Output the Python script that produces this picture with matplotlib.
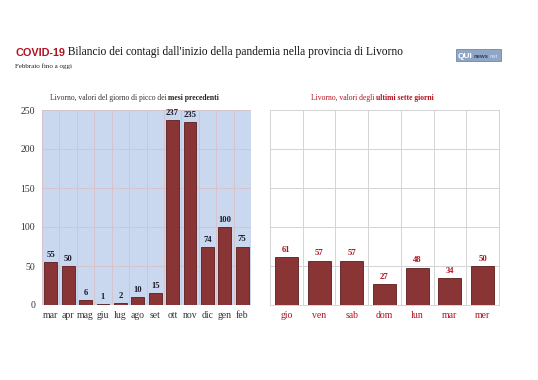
import matplotlib.pyplot as plt
import matplotlib.patches as mpatches
import numpy as np

# --- data ---
months = ['mar', 'apr', 'mag', 'giu', 'lug', 'ago', 'set', 'ott', 'nov', 'dic', 'gen', 'feb']
month_peaks = [55, 50, 6, 1, 2, 10, 15, 237, 235, 74, 100, 75]

days = ['gio', 'ven', 'sab', 'dom', 'lun', 'mar', 'mer']
day_values = [61, 57, 57, 27, 48, 34, 50]

y_ticks = [0, 50, 100, 150, 200, 250]

# --- styling ---
bar_color = '#8a3535'
edge_color = '#5c1c1c'
red = '#b3121f'
serif = ['Liberation Serif', 'DejaVu Serif']
sans = ['Liberation Sans', 'DejaVu Sans']
plt.rcParams['font.family'] = serif

fig = plt.figure(figsize=(5.38, 3.8), dpi=100)
fig.patch.set_facecolor('white')

# --- left panel: monthly peaks ---
ax1 = fig.add_axes([42 / 538, 75 / 380, 209 / 538, 195 / 380])
ax1.set_facecolor('#cad8ef')
x1 = np.arange(len(months))
bars1 = ax1.bar(x1, month_peaks, width=0.74, color=bar_color, edgecolor=edge_color,
                linewidth=0.6, zorder=3)
ax1.set_xlim(-0.5, len(months) - 0.5)
ax1.set_ylim(0, 250)
ax1.set_yticks(y_ticks)
ax1.set_xticks(x1)
ax1.set_xticklabels(months)
ax1.set_xticks(np.arange(-0.5, len(months)), minor=True)
ax1.grid(axis='y', color='#d6c3cc', lw=0.7, zorder=0)
ax1.grid(axis='x', which='minor', color='#d6c3cc', lw=0.7, zorder=0)
ax1.tick_params(axis='both', which='both', length=0, labelsize=7, colors='#333333')
ax1.tick_params(axis='x', pad=4)
ax1.tick_params(axis='y', pad=5)
for s in ax1.spines.values():
    s.set_visible(False)
for b, v in zip(bars1, month_peaks):
    ax1.text(b.get_x() + b.get_width() / 2, v + 4, str(v), ha='center', va='bottom',
             fontsize=6.2, fontweight='bold', color='#1a1a2a')

# --- right panel: last seven days ---
ax2 = fig.add_axes([270 / 538, 75 / 380, 229 / 538, 195 / 380])
ax2.set_facecolor('white')
x2 = np.arange(len(days))
bars2 = ax2.bar(x2, day_values, width=0.7, color=bar_color, edgecolor=edge_color,
                linewidth=0.6, zorder=3)
ax2.set_xlim(-0.5, len(days) - 0.5)
ax2.set_ylim(0, 250)
ax2.set_yticks(y_ticks)
ax2.set_yticklabels([])
ax2.set_xticks(x2)
ax2.set_xticklabels(days)
ax2.set_xticks(np.arange(-0.5, len(days)), minor=True)
ax2.grid(axis='y', color='#d4d4d4', lw=0.7, zorder=0)
ax2.grid(axis='x', which='minor', color='#d4d4d4', lw=0.7, zorder=0)
ax2.tick_params(axis='both', which='both', length=0, labelsize=7, colors=red)
ax2.tick_params(axis='x', pad=4)
for s in ax2.spines.values():
    s.set_color('#d4d4d4')
    s.set_linewidth(0.7)
for b, v in zip(bars2, day_values):
    ax2.text(b.get_x() + b.get_width() / 2, v + 4, str(v), ha='center', va='bottom',
             fontsize=6.2, fontweight='bold', color=red)

# --- header ---
t1 = fig.text(15 / 538, 1 - 56 / 380, 'COVID-19', color=red, fontsize=7.8,
              fontweight='bold', family=sans)
fig.add_artist(plt.Annotation(
    ' Bilancio dei contagi dall\'inizio della pandemia nella provincia di Livorno',
    xy=(1, 0), xycoords=t1, va='bottom', ha='left', fontsize=8.3, color='#111111',
    annotation_clip=False))
fig.text(15 / 538, 1 - 68 / 380, 'Febbraio fino a oggi', fontsize=5, color='#222222')

# logo box
logo = mpatches.Rectangle((456 / 538, 1 - 61 / 380), 45 / 538, 12 / 380,
                          transform=fig.transFigure, facecolor='#8fa6c6',
                          edgecolor='#6d86aa', lw=0.6, zorder=1)
fig.add_artist(logo)
fig.text(457.5 / 538, 1 - 58 / 380, 'QUI', fontsize=6, fontweight='bold',
         color='white', family=sans, va='baseline', zorder=5)
fig.text(474 / 538, 1 - 58 / 380, 'news', fontsize=4.3, fontweight='bold',
         color='#2b3f66', family=sans, va='baseline', zorder=5)
fig.text(490 / 538, 1 - 58 / 380, 'net', fontsize=4.3, color='#d5e0f0',
         family=sans, va='baseline', zorder=5)

# panel titles
tl = fig.text(50 / 538, 1 - 100 / 380, 'Livorno, valori del giorno di picco dei ',
              fontsize=5.5, color='#333333')
fig.add_artist(plt.Annotation('mesi precedenti', xy=(1, 0), xycoords=tl, va='bottom',
                              ha='left', fontsize=5.5, fontweight='bold', color='#222222',
                              annotation_clip=False))

tr = fig.text(311 / 538, 1 - 100 / 380, 'Livorno, valori degli ',
              fontsize=5.5, color=red)
fig.add_artist(plt.Annotation('ultimi sette giorni', xy=(1, 0), xycoords=tr, va='bottom',
                              ha='left', fontsize=5.5, fontweight='bold', color=red,
                              annotation_clip=False))

fig.savefig('out.png', dpi=100)
